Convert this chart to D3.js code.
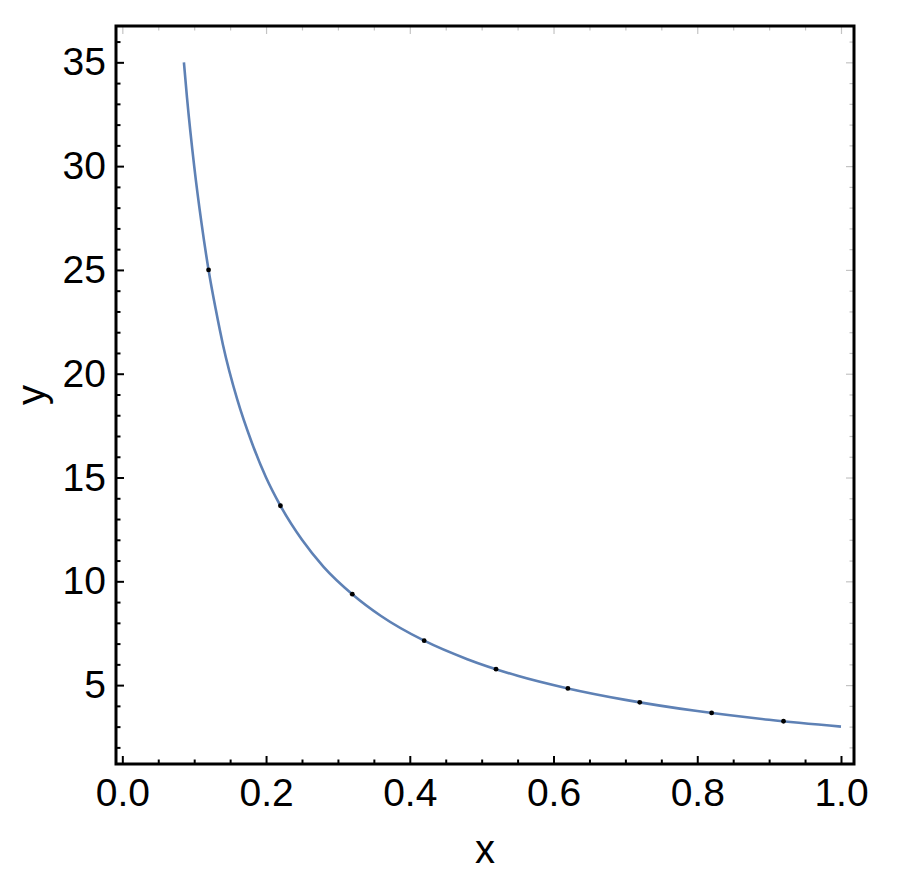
<!DOCTYPE html>
<html>
<head>
<meta charset="utf-8">
<script src="https://cdn.jsdelivr.net/npm/d3@7"></script>
<style>
  body { margin: 0; background: #fff; }
  svg { display: block; font-family: "Liberation Sans", Arial, sans-serif; }
</style>
</head>
<body>
<svg id="chart" width="900" height="888"></svg>
<script>
// curve
const curveX = [0.0857, 0.09, 0.1, 0.11, 0.12, 0.13, 0.14, 0.16, 0.18, 0.2, 0.22, 0.25, 0.28, 0.32, 0.36, 0.42, 0.48, 0.55, 0.62, 0.7, 0.8, 0.9, 1.0]
const curveY = [35, 33.3, 30, 27.3, 25, 23.1, 21.4, 18.75, 16.7, 15, 13.64, 12, 10.7, 9.38, 8.33, 7.14, 6.25, 5.45, 4.84, 4.29, 3.75, 3.33, 3.0]

// sample dots
const dotX = [0.12, 0.22, 0.32, 0.42, 0.52, 0.62, 0.72, 0.82, 0.92]
const dotY = [25, 13.64, 9.38, 7.14, 5.77, 4.84, 4.17, 3.66, 3.26]

const xTicks = [0, 0.2, 0.4, 0.6, 0.8, 1.0]
const xMinor = [0.05, 0.1, 0.15, 0.25, 0.3, 0.35, 0.45, 0.5, 0.55, 0.65, 0.7, 0.75, 0.85, 0.9, 0.95]
const yTicks = [5, 10, 15, 20, 25, 30, 35]
const yMinor = [2, 3, 4, 6, 7, 8, 9, 11, 12, 13, 14, 16, 17, 18, 19, 21, 22, 23, 24, 26, 27, 28, 29, 31, 32, 33, 34, 36]

const svg = d3.select('#chart')

const plotLeft = 116, plotRight = 854, plotTop = 26, plotBottom = 764

const x = d3.scaleLinear().domain([-0.0088, 1.0181]).range([plotLeft, plotRight])
const y = d3.scaleLinear().domain([1.2, 36.75]).range([plotBottom, plotTop])

const g = svg.append("g")

function tickAxis(axis, tx, ty, color, labels) {
    const a = g.append("g")
        .attr("transform", `translate(${tx},${ty})`)
        .call(axis)
    a.select(".domain").remove()
    a.selectAll(".tick line").attr("stroke", color).attr("stroke-width", color == "#000" ? 2 : 1.2)
    if (!labels) a.selectAll(".tick text").remove()
    return a
}

// top / right ticks, light grey
tickAxis(d3.axisTop(x).tickValues(xTicks).tickSize(-8), 0, plotTop, "#c4c4c4", false)
tickAxis(d3.axisTop(x).tickValues(xMinor).tickSize(-4.5), 0, plotTop, "#c4c4c4", false)
tickAxis(d3.axisRight(y).tickValues(yTicks).tickSize(-8), plotRight, 0, "#c4c4c4", false)
tickAxis(d3.axisRight(y).tickValues(yMinor).tickSize(-4.5), plotRight, 0, "#c4c4c4", false)

// bottom / left ticks, black
tickAxis(d3.axisBottom(x).tickValues(xTicks).tickSize(-8).tickPadding(14).tickFormat(d3.format(".1f")), 0, plotBottom, "#000", true)
tickAxis(d3.axisBottom(x).tickValues(xMinor).tickSize(-4.5), 0, plotBottom, "#000", false)
tickAxis(d3.axisLeft(y).tickValues(yTicks).tickSize(-8).tickPadding(10), plotLeft, 0, "#000", true)
tickAxis(d3.axisLeft(y).tickValues(yMinor).tickSize(-4.5), plotLeft, 0, "#000", false)

g.selectAll(".tick text")
    .attr("fill", "#000")
    .style("font-size", "39px")
    .style("font-family", "Liberation Sans, Arial, sans-serif")

// frame
g.append("rect")
    .attr("x", plotLeft).attr("y", plotTop)
    .attr("width", plotRight - plotLeft).attr("height", plotBottom - plotTop)
    .attr("fill", "none")
    .attr("stroke", "#000")
    .attr("stroke-width", 3)

const pts = curveX.map((d, i) => [d, curveY[i]])
const line = d3.line()
    .x(d => x(d[0]))
    .y(d => y(d[1]))
    .curve(d3.curveMonotoneX)

g.append("path")
    .datum(pts)
    .attr("d", line)
    .attr("fill", "none")
    .attr("stroke", "#5e81b5")
    .attr("stroke-width", 2.6)

g.selectAll(".dot")
    .data(dotX.map((d, i) => [d, dotY[i]]))
    .enter().append("circle")
    .attr("class", "dot")
    .attr("cx", d => x(d[0]))
    .attr("cy", d => y(d[1]))
    .attr("r", 2.4)
    .attr("fill", "#000")

// axis labels
svg.append("text")
    .attr("x", 485)
    .attr("y", 863)
    .attr("text-anchor", "middle")
    .style("font-size", "40px")
    .text("x")

svg.append("text")
    .attr("transform", `translate(45,395) rotate(-90)`)
    .attr("text-anchor", "middle")
    .style("font-size", "40px")
    .text("y")
</script>
</body>
</html>
